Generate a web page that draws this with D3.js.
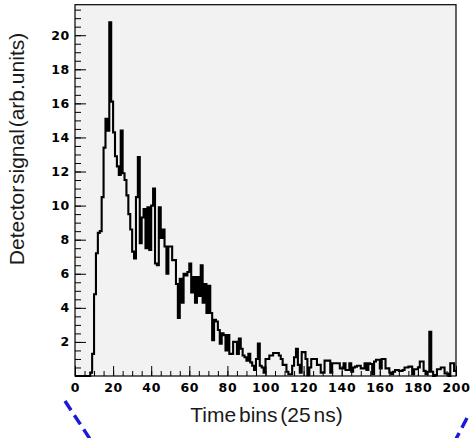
<!DOCTYPE html>
<html>
<head>
<meta charset="utf-8">
<script src="https://cdn.jsdelivr.net/npm/d3@7"></script>
<style>
  html, body { margin: 0; padding: 0; background: #ffffff; }
  svg { display: block; }
</style>
</head>
<body>
<svg id="chart" width="473" height="438"></svg>
<script>
// ---- data ----
const binStart = 0;            // first bin lower edge
const binWidth = 1;            // time bin width
const counts = [
  0, 0, 0, 0, 0, 0, 0, 0, 0.2, 1.3,
  4.8, 7.2, 8.4, 8.5, 10.5, 13.4, 15.1, 14.4, 20.75, 16.1,
  14.3, 12.9, 12.3, 11.8, 14.4, 11.9, 11.5, 10.6, 9.5, 8.6,
  7.3, 6.9, 10.5, 12.85, 7.8, 9.3, 9.8, 7.5, 9.9, 7.4,
  10.0, 11.0, 6.6, 6.5, 9.9, 8.1, 8.6, 7.6, 6.0, 7.6,
  7.6, 6.8, 6.8, 5.4, 3.4, 5.7, 4.3, 6.0, 5.9, 6.1,
  6.6, 4.9, 5.8, 4.3, 5.8, 4.7, 6.5, 4.3, 5.4, 3.7,
  5.3, 3.7, 2.1, 3.3, 3.2, 2.7, 1.9, 2.5, 2.4, 1.5,
  2.4, 1.3, 1.3, 2.0, 2.0, 1.3, 2.2, 1.6, 1.2, 1.1,
  0.9, 1.3, 0.8, 0.6, 0.35, 1.0, 1.9, 0.6, 0.5, 0.2,
  1.0, 1.0, 1.2, 1.2, 1.35, 1.35, 1.35, 1.2, 1.0, 0.65,
  0.65, 0.25, 0.1, 0.1, 0.6, 1.1, 1.6, 0.65, 0.2, 1.4,
  1.4, 1.0, 0.05, 0.5, 1.0, 1.0, 1.0, 0.65, 0.65, 0.2,
  0.2, 0.9, 0.9, 0.9, 0.2, 0.75, 0.75, 0.75, 0.75, 0.45,
  0.45, 0.75, 0.35, 0.35, 0.75, 0.25, 0.5, 0.55, 0.6, 0.6,
  0.45, 0.45, 0.75, 0.35, 0.75, 0.7, 0.1, 0.85, 0.95, 0.95,
  0.45, 1.0, 1.0, 0.45, 0.45, 0.2, 0.1, 0.25, 0.35, 0.35,
  0.3, 0.3, 0.35, 0.5, 0.5, 0.55, 0.55, 0.1, 0.4, 0.4,
  0.5, 0.85, 0.85, 0.3, 0.1, 0.25, 2.6, 0.25, 0.0, 0.05,
  0.4, 0.4, 0.5, 0.5, 0.15, 0.15, 0.0, 0.75, 0.75, 0.3
];
const xDomain = [0, 200];
const yDomain = [0, 21.79];
const xTickLabels = [0, 20, 40, 60, 80, 100, 120, 140, 160, 180, 200];
const xMinorTicks = d3.range(0, 201, 5);
const yTickLabels = [2, 4, 6, 8, 10, 12, 14, 16, 18, 20];
const yMinorTicks = d3.range(0.5, 21.6, 0.5);
const xTitle = "Time bins (25 ns)";
const yTitle = "Detector signal (arb.units)";

// ---- layout ----
const svg = d3.select("#chart");
const L = 75, R = 456, T = 4.7, B = 376;
const x = d3.scaleLinear().domain(xDomain).range([L, R]);
const y = d3.scaleLinear().domain(yDomain).range([B, T]);

// plot background
svg.append("rect")
  .attr("x", L).attr("y", T).attr("width", R - L).attr("height", B - T)
  .attr("fill", "#f2f2f2");

// minor ticks
svg.append("g").attr("transform", `translate(0,${B})`)
  .call(d3.axisBottom(x).tickValues(xMinorTicks).tickSize(-5).tickFormat(""))
  .call(g => g.select(".domain").remove())
  .call(g => g.selectAll("line").attr("stroke", "#000"));
svg.append("g").attr("transform", `translate(${L},0)`)
  .call(d3.axisLeft(y).tickValues(yMinorTicks).tickSize(-6).tickFormat(""))
  .call(g => g.select(".domain").remove())
  .call(g => g.selectAll("line").attr("stroke", "#000"));

// histogram outline
const pts = [];
counts.forEach((v, i) => {
  const x0 = binStart + i * binWidth;
  pts.push([x0, v], [x0 + binWidth, v]);
});
const line = d3.line().x(d => x(d[0])).y(d => y(d[1]));
svg.append("path")
  .attr("d", line(pts))
  .attr("fill", "none")
  .attr("stroke", "#000")
  .attr("stroke-width", 2.1)
  .attr("stroke-linejoin", "miter");

// major axes
const xAxis = svg.append("g").attr("transform", `translate(0,${B})`)
  .call(d3.axisBottom(x).tickValues(xTickLabels).tickSize(-10).tickPadding(7).tickFormat(d3.format("d")));
const yAxis = svg.append("g").attr("transform", `translate(${L},0)`)
  .call(d3.axisLeft(y).tickValues(yTickLabels).tickSize(-11).tickPadding(5).tickFormat(d3.format("d")));
[xAxis, yAxis].forEach(g => {
  g.select(".domain").remove();
  g.selectAll("line").attr("stroke", "#000");
  g.selectAll("text")
    .attr("fill", "#000")
    .style("font-family", "'DejaVu Sans', sans-serif")
    .style("font-weight", "bold")
    .style("font-size", "12.5px")
    .style("letter-spacing", "0.7px");
});

// frame
svg.append("rect")
  .attr("x", L).attr("y", T).attr("width", R - L).attr("height", B - T)
  .attr("fill", "none").attr("stroke", "#000").attr("stroke-width", 1.2);

// titles
svg.append("text")
  .attr("x", (L + R) / 2 + 1).attr("y", 422)
  .attr("text-anchor", "middle")
  .style("font-family", "'Liberation Sans', Arial, sans-serif")
  .style("font-size", "21px")
  .style("word-spacing", "-3px")
  .attr("fill", "#1a1a1a")
  .text(xTitle);
svg.append("text")
  .attr("transform", "translate(24,149) rotate(-90)")
  .attr("text-anchor", "middle")
  .style("font-family", "'Liberation Sans', Arial, sans-serif")
  .style("font-size", "21px")
  .style("word-spacing", "-4px")
  .attr("fill", "#1a1a1a")
  .text(yTitle);

// blue dashed guide lines at the bottom
svg.append("line")
  .attr("x1", 65).attr("y1", 401).attr("x2", 90).attr("y2", 439)
  .attr("stroke", "#1a1ad8").attr("stroke-width", 3.5).attr("stroke-dasharray", "11,6");
svg.append("line")
  .attr("x1", 467).attr("y1", 418).attr("x2", 456).attr("y2", 439)
  .attr("stroke", "#1a1ad8").attr("stroke-width", 3.5).attr("stroke-dasharray", "11,6");
</script>
</body>
</html>
